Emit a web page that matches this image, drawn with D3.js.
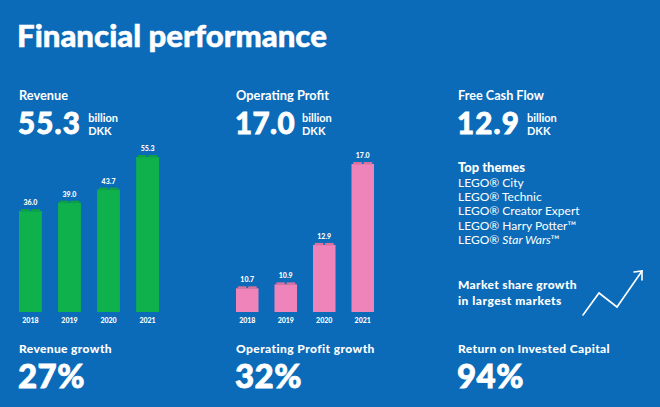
<!DOCTYPE html>
<html>
<head>
<meta charset="utf-8">
<script src="https://cdn.jsdelivr.net/npm/d3@7"></script>
<style>
  body { margin: 0; background: #0b6bb8; }
  svg { display: block; }
  text { font-family: Lato, "Open Sans", sans-serif; fill: #fff; }
</style>
</head>
<body>
<script>
// Data
const years = ["2018", "2019", "2020", "2021"];
const revenue = [36.0, 39.0, 43.7, 55.3];
const operatingProfit = [10.7, 10.9, 12.9, 17.0];
const headlines = ["55.3", "17.0", "12.9"];
const headlineLabels = ["Revenue", "Operating Profit", "Free Cash Flow"];
const growthLabels = ["Revenue growth", "Operating Profit growth", "Return on Invested Capital"];
const growthValues = ["27%", "32%", "94%"];
const topThemes = ["LEGO® City", "LEGO® Technic", "LEGO® Creator Expert", "LEGO® Harry Potter™", "LEGO® Star Wars™"];

const width = 660, height = 407;
const blue = "#0b6bb8";

const svg = d3.select("body").append("svg")
    .attr("width", width)
    .attr("height", height);

svg.append("rect").attr("width", width).attr("height", height).attr("fill", blue);

// Set a text element's font size so it spans roughly the given width
function fit(sel, w) {
    const node = sel.node();
    const size = parseFloat(sel.attr("font-size"));
    const len = node.getComputedTextLength();
    if (len > 0) sel.attr("font-size", (size * w / len).toFixed(2));
    return sel;
}

// Stretch a text with letter spacing instead of size (capped)
function spread(sel, w, cap) {
    const n = sel.text().length;
    const len = sel.node().getComputedTextLength();
    let ls = (w - len) / n;
    if (cap !== undefined) ls = Math.min(ls, cap);
    sel.attr("letter-spacing", ls.toFixed(2));
    return sel;
}

// Title
fit(svg.append("text")
    .attr("x", 17).attr("y", 47)
    .attr("font-size", 28).attr("font-weight", 900)
    .attr("stroke", "#fff").attr("stroke-width", 0.5)
    .text("Financial performance"), 310);

// Headline columns
const colX = [19, 236, 458];
const labelW = [49, 93, 86];
const bigW = [66, 60, 63];

colX.forEach((x, i) => {
    fit(svg.append("text")
        .attr("x", x).attr("y", 100)
        .attr("font-size", 11).attr("font-weight", 700)
        .text(headlineLabels[i]), labelW[i]);

    const big = spread(svg.append("text")
        .attr("x", x - 1).attr("y", 134)
        .attr("font-size", 29.5).attr("font-weight", 900)
        .attr("stroke", "#fff").attr("stroke-width", 0.8)
        .text(headlines[i]), bigW[i], 1.2);

    const bx = x - 1 + big.node().getComputedTextLength() + 7;
    svg.append("text").attr("x", bx).attr("y", 122)
        .attr("font-size", 11).attr("font-weight", 700).text("billion");
    svg.append("text").attr("x", bx).attr("y", 135)
        .attr("font-size", 11).attr("font-weight", 700).text("DKK");
});

// Bar charts
function barChart(values, x0, x1, domain, yTop, fill, stud) {
    const base = 312;
    const x = d3.scaleBand().domain(years).range([x0, x1]).paddingInner(0.415).paddingOuter(0);
    const y = d3.scaleLinear().domain(domain).range([base, yTop]);
    const g = svg.append("g");
    const data = years.map((yr, i) => ({ year: yr, value: values[i] }));

    g.selectAll("rect.bar")
        .data(data)
        .enter().append("rect")
        .attr("class", "bar")
        .attr("x", d => x(d.year))
        .attr("y", d => y(d.value))
        .attr("width", x.bandwidth())
        .attr("height", d => base - y(d.value))
        .attr("fill", fill);

    // little lego studs on top of each bar
    const bw = x.bandwidth();
    [0.08, 0.54].forEach(off => {
        g.selectAll(null)
            .data(data)
            .enter().append("rect")
            .attr("x", d => x(d.year) + bw * off)
            .attr("y", d => y(d.value) - 2)
            .attr("width", bw * 0.38)
            .attr("height", 2.5)
            .attr("fill", stud);
    });

    g.selectAll("text.val")
        .data(data)
        .enter().append("text")
        .attr("class", "val")
        .attr("x", d => x(d.year) + bw / 2)
        .attr("y", d => y(d.value) - 6)
        .attr("text-anchor", "middle")
        .attr("font-size", 7).attr("font-weight", 900)
        .text(d => d.value.toFixed(1));

    g.selectAll("text.yr")
        .data(data)
        .enter().append("text")
        .attr("class", "yr")
        .attr("x", d => x(d.year) + bw / 2)
        .attr("y", 323)
        .attr("text-anchor", "middle")
        .attr("font-size", 7).attr("font-weight", 900)
        .text(d => d.year);
}

barChart(revenue, 19, 159, [0, 55.3], 157, "#0fb14c", "#0da046");
barChart(operatingProfit, 236, 374, [9.5, 17.0], 164, "#ee84ba", "#d9729f");

// Top themes
fit(svg.append("text").attr("x", 458).attr("y", 172)
    .attr("font-size", 12).attr("font-weight", 900).text("Top themes"), 67);

svg.selectAll("text.theme")
    .data(topThemes)
    .enter().append("text")
    .attr("class", "theme")
    .attr("x", 458)
    .attr("y", (d, i) => 187 + i * 14.2)
    .attr("font-size", 12)
    .each(function(d) {
        const t = d3.select(this);
        if (d.includes("Star Wars")) {
            t.append("tspan").text("LEGO® ");
            t.append("tspan").attr("font-style", "italic").text("Star Wars");
            t.append("tspan").text("™");
        } else {
            t.text(d);
        }
    });

// Market share growth
const marketLines = ["Market share growth", "in largest markets"];
const marketW = [119, 104];
marketLines.forEach((s, i) => {
    spread(svg.append("text").attr("x", 458).attr("y", 289 + i * 16)
        .attr("font-size", 12).attr("font-weight", 900).text(s), marketW[i]);
});

// Arrow icon (local shape, placed with a transform)
const arrowShape = [[0, 44], [16, 22], [34, 36], [59, 0]];
const arrowHead = [[51, 1], [59, 0], [59, 9]];
const icon = svg.append("g").attr("transform", "translate(583,271)")
    .attr("fill", "none").attr("stroke", "#fff").attr("stroke-width", 1.6)
    .attr("stroke-linejoin", "miter").attr("stroke-linecap", "round");
icon.append("path").attr("d", d3.line()(arrowShape));
icon.append("path").attr("d", d3.line()(arrowHead));

// Bottom KPIs
const growthW = [93, 139, 152];
colX.forEach((x, i) => {
    spread(svg.append("text").attr("x", x).attr("y", 353)
        .attr("font-size", 12).attr("font-weight", 900).text(growthLabels[i]), growthW[i]);
    spread(svg.append("text").attr("x", x - 1).attr("y", 388)
        .attr("font-size", 33).attr("font-weight", 900)
        .attr("stroke", "#fff").attr("stroke-width", 0.8)
        .text(growthValues[i]), 67, 1.2);
});
</script>
</body>
</html>
